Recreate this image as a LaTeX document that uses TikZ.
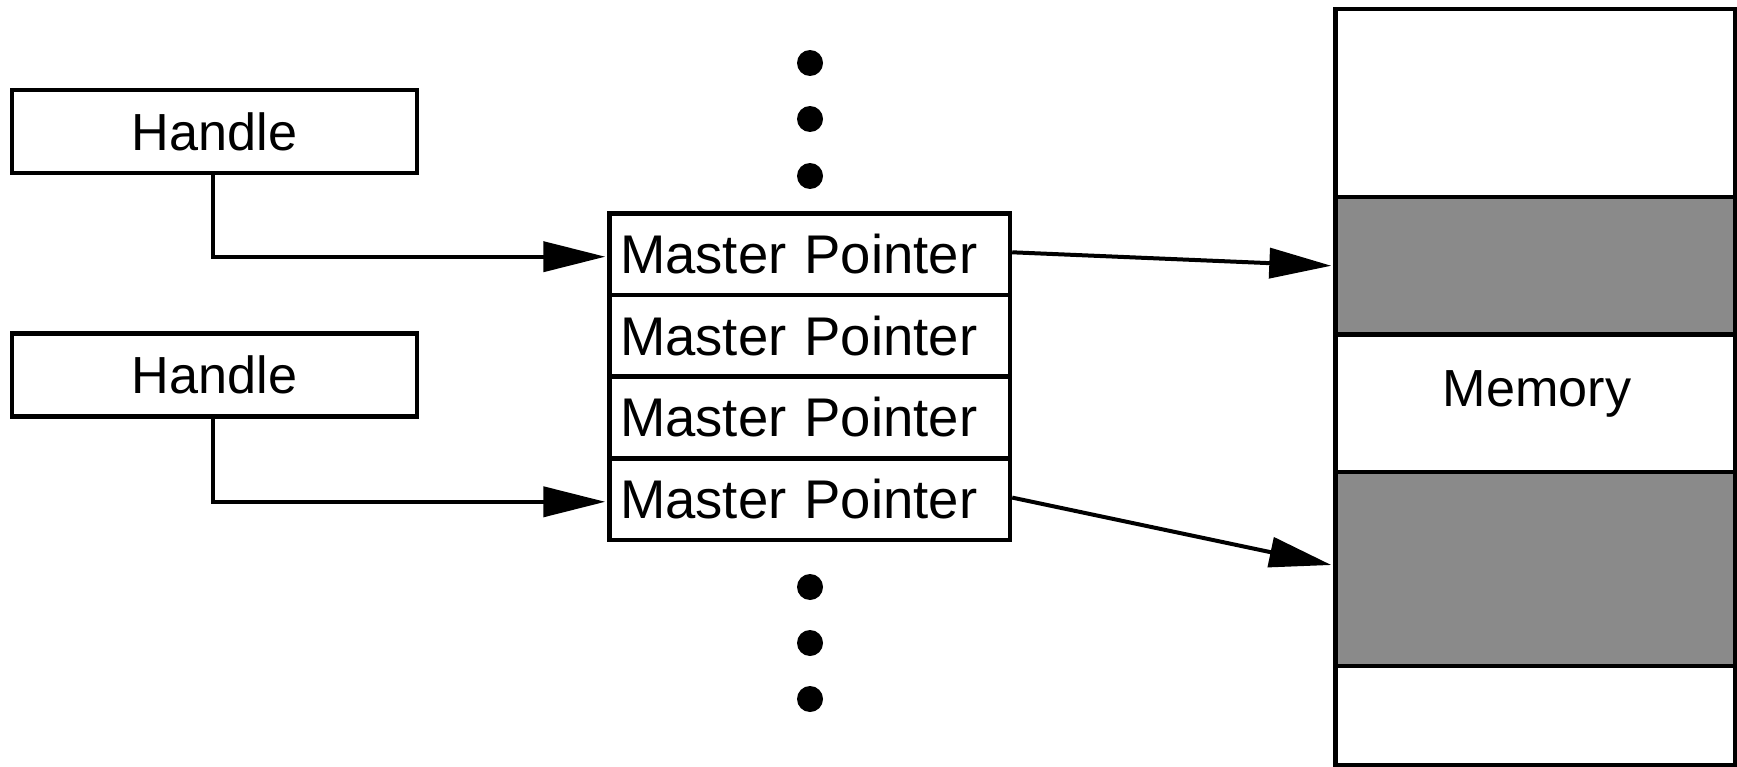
\documentclass[tikz,border=0pt]{standalone}
\usepackage{fontspec}
\setmainfont{Liberation Sans}
\usetikzlibrary{arrows.meta,calc}
\definecolor{memgray}{RGB}{138,138,138}
\tikzset{
  box/.style={draw=black, line width=0.09cm, inner sep=0pt},
  handlebox/.style={box, minimum width=8.1cm, minimum height=1.66cm, font=\fontsize{29.7}{34}\selectfont},
  mprow/.style={box, text width=7.59cm, inner xsep=0.21cm, inner ysep=0pt, align=left,
    minimum height=1.632cm, font=\fontsize{31}{36}\selectfont},
  memband/.style={box, minimum width=7.99cm},
  shaded/.style={fill=memgray},
  lbl/.style={inner sep=0pt, font=\fontsize{29.7}{34}\selectfont},
  conn/.style={line width=0.08cm, -{Triangle[length=1.24cm,width=0.6cm]}},
  dot/.style={circle, fill=black, inner sep=0pt, minimum size=0.52cm}
}
\begin{document}
\begin{tikzpicture}[x=0.02cm,y=-0.02cm]
\useasboundingbox (0,0) rectangle (1737,767);
% handles
\node[handlebox] (h1) at (214.5,131.5) {Handle};
\node[handlebox] (h2) at (214.5,375) {Handle};
% master pointers
\node[mprow] (mp1) at (809.75,254.3) {Master Pointer};
\node[mprow] (mp2) at (809.75,335.9) {Master Pointer};
\node[mprow] (mp3) at (809.75,417.5) {Master Pointer};
\node[mprow] (mp4) at (809.75,499.1) {Master Pointer};
% dots
\node[dot] (d1) at (810,63) {};
\node[dot] (d2) at (810,119) {};
\node[dot] (d3) at (810,176) {};
\node[dot] (d4) at (810,587) {};
\node[dot] (d5) at (810,643) {};
\node[dot] (d6) at (810,699) {};
% memory
\node[memband, minimum height=3.76cm] (mem1) at (1535.25,103) {};
\node[memband, shaded, minimum height=2.75cm] (mem2) at (1535.25,265.75) {};
\node[memband, minimum height=2.75cm] (mem3) at (1535.25,403.25) {};
\node[memband, shaded, minimum height=3.88cm] (mem4) at (1535.25,569) {};
\node[memband, minimum height=1.99cm] (mem5) at (1535.25,715.75) {};
\node[lbl, anchor=base] (memlbl) at (1537,406) {Memory};
% connectors
\draw[conn] ($(h1.south)+(-1.8,0)$) |- ($(mp1.west)+(-2,2.4)$);
\draw[conn] ($(h2.south)+(-1.8,0)$) |- ($(mp4.west)+(-2,2.7)$);
\draw[conn] ($(mp1.east)+(0,-2)$) -- ($(mem2.west)+(-2,0)$);
\draw[conn] ($(mp4.east)+(0,-1.5)$) -- ($(mem4.west)+(-2,-4)$);
\end{tikzpicture}
\end{document}
